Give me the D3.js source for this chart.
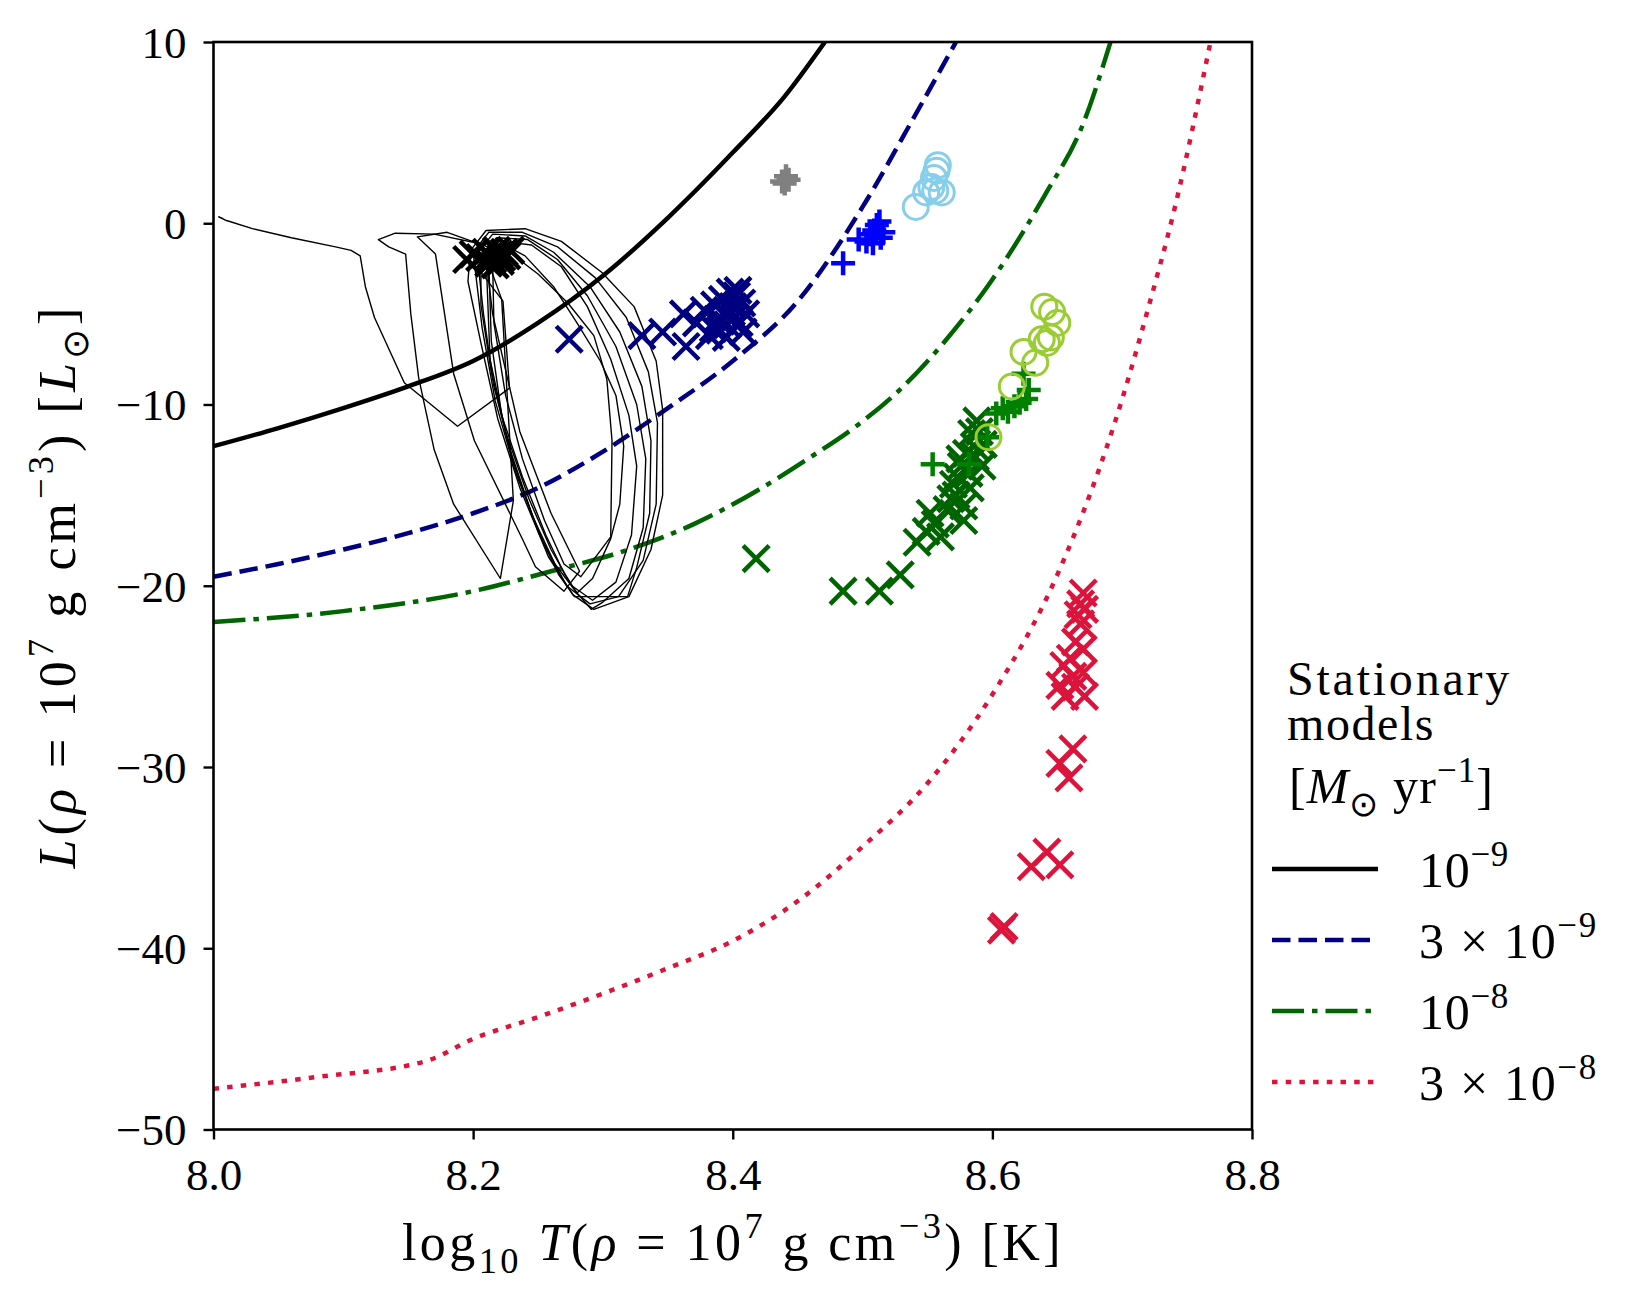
<!DOCTYPE html>
<html>
<head>
<meta charset="utf-8">
<script src="https://cdn.jsdelivr.net/npm/d3@7"></script>
<style>
  body { margin: 0; background: #fff; }
  svg text { font-family: "Liberation Serif", "Times New Roman", serif; fill: #000; white-space: pre; }
</style>
</head>
<body>
<svg id="chart"></svg>
<script>
// ---- data ----
const xTicks = [8.0, 8.2, 8.4, 8.6, 8.8];
const yTicks = [-50, -40, -30, -20, -10, 0, 10];

// stationary models, log T vs L
const stat1e9T = [8.0, 8.05, 8.1, 8.15, 8.2, 8.25, 8.3, 8.35, 8.4, 8.44, 8.471];
const stat1e9L = [-12.3, -11.3, -10.2, -9.0, -7.6, -5.5, -2.9, 0.3, 3.9, 7.0, 10];
const stat3e9T = [8.0, 8.05, 8.1, 8.15, 8.2, 8.25, 8.3, 8.35, 8.4, 8.45, 8.5, 8.54, 8.572];
const stat3e9L = [-19.5, -18.8, -18.0, -17.1, -16.0, -14.6, -12.6, -10.2, -7.6, -4.3, 0.9, 5.9, 10];
const stat1e8T = [8.0, 8.1, 8.2, 8.26, 8.32, 8.37, 8.42, 8.46, 8.495, 8.53, 8.56, 8.6, 8.64, 8.67, 8.691];
const stat1e8L = [-22.0, -21.4, -20.3, -19.2, -18.0, -16.6, -14.7, -12.9, -11.2, -9.1, -6.8, -3.1, 1.5, 5.5, 10];
const stat3e8T = [8.0, 8.08, 8.165, 8.2, 8.25, 8.3, 8.35, 8.4, 8.45, 8.5, 8.55, 8.6, 8.65, 8.7, 8.72, 8.74, 8.768];
const stat3e8L = [-47.75, -47.1, -46.2, -45.0, -43.8, -42.5, -41.1, -39.6, -37.4, -34.4, -30.9, -26.0, -19.4, -9.7, -4.7, 0.7, 10];

// time-dependent track (thin black line), [logT, L] pairs per segment
const trackStart = [[8.0075, 0.25], [8.004, 0.35], [8.01, 0.15], [8.03, -0.3], [8.06, -0.8], [8.094, -1.3],
  [8.106, -1.5], [8.113, -1.8], [8.117, -3.5], [8.124, -5.2], [8.147, -8.8], [8.188, -11.2], [8.228, -9.1],
  [8.223, -4.3], [8.205, -2.6], [8.196, -1.9]];
const trackTip1 = [[8.21, -1.2], [8.17, -0.6], [8.14, -0.55], [8.127, -0.9], [8.135, -1.3], [8.148, -1.7],
  [8.152, -5.0], [8.158, -8.5], [8.17, -12.5], [8.185, -15.5], [8.221, -19.6], [8.231, -15.3], [8.226, -9.2], [8.222, -4.2], [8.212, -2.2]];
const trackTip2 = [[8.215, -1.4], [8.18, -0.5], [8.157, -0.75], [8.171, -1.7], [8.178, -5.0], [8.185, -8.3],
  [8.201, -12.0], [8.2385, -17.5], [8.248, -18.95], [8.27, -20.3], [8.282, -19.2], [8.26, -16.0], [8.236, -11.5], [8.215, -5.0], [8.21, -2.0]];
const loopA = [[8.198, -1.5], [8.21, -0.4], [8.24, -0.3], [8.268, -1.0], [8.299, -2.7], [8.324, -4.6], [8.341, -7.6],
  [8.346, -10.3], [8.346, -15.0], [8.337, -18.0], [8.320, -20.6], [8.293, -21.3], [8.277, -20.5], [8.258, -18.4],
  [8.236, -14.6], [8.219, -10.8], [8.206, -6.6], [8.196, -3.2], [8.198, -1.5]];
const loopB = [[8.2, -1.6], [8.212, -0.5], [8.238, -0.5], [8.265, -1.3], [8.294, -3.0], [8.318, -5.2], [8.335, -8.2],
  [8.342, -11.0], [8.341, -15.5], [8.331, -18.6], [8.312, -20.6], [8.29, -21.0], [8.272, -20.0], [8.254, -17.6],
  [8.233, -13.8], [8.217, -9.8], [8.207, -5.8], [8.2, -1.6]];
const loopC = [[8.203, -1.7], [8.215, -0.6], [8.24, -0.7], [8.262, -1.6], [8.29, -3.5], [8.313, -6.0], [8.33, -9.0],
  [8.337, -12.0], [8.336, -16.0], [8.326, -19.0], [8.319, -20.6], [8.278, -20.6], [8.266, -19.4], [8.25, -17.0],
  [8.231, -13.2], [8.216, -9.0], [8.208, -5.0], [8.203, -1.7]];
const loopD = [[8.206, -1.8], [8.218, -0.8], [8.242, -0.9], [8.265, -2.0], [8.288, -4.0], [8.31, -6.8], [8.326, -10.0],
  [8.333, -13.0], [8.331, -16.8], [8.32, -19.6], [8.3, -20.9], [8.291, -21.3], [8.28, -20.4], [8.263, -18.8], [8.246, -16.2],
  [8.228, -12.4], [8.214, -8.2], [8.206, -4.5], [8.206, -1.8]];
const loopE = [[8.21, -1.9], [8.222, -1.0], [8.245, -1.2], [8.268, -2.4], [8.288, -4.6], [8.306, -7.5], [8.32, -10.6],
  [8.326, -13.4], [8.322, -17.2], [8.31, -19.8], [8.292, -20.8], [8.276, -20.0], [8.26, -18.0], [8.243, -15.2],
  [8.225, -11.5], [8.213, -7.5], [8.21, -1.9]];
const loopF = [[8.212, -2.0], [8.227, -1.3], [8.24, -1.8], [8.262, -3.5], [8.28, -5.5], [8.298, -7.6], [8.31, -9.5],
  [8.316, -12.3], [8.313, -15.5], [8.306, -17.4], [8.292, -19.6], [8.28, -20.4], [8.27, -19.3], [8.256, -17.2],
  [8.238, -14.0], [8.222, -10.6], [8.214, -6.5], [8.212, -2.0]];
const loopG = [[8.215, -2.1], [8.228, -1.6], [8.25, -2.8], [8.273, -4.4], [8.293, -6.2], [8.303, -8.6], [8.307, -12.0],
  [8.306, -17.3], [8.283, -19.5], [8.27, -18.8], [8.255, -16.4], [8.238, -13.0], [8.225, -9.5], [8.216, -5.5], [8.215, -2.1]];

// markers
const blackXT = [8.195, 8.2, 8.205, 8.21, 8.213, 8.215, 8.218, 8.22, 8.222, 8.224, 8.226, 8.229, 8.212, 8.217, 8.221];
const blackXL = [-2.0, -1.7, -1.9, -1.6, -1.8, -2.0, -1.5, -1.7, -1.9, -1.6, -1.8, -1.5, -2.2, -2.3, -2.1];
const grayPT = [8.438, 8.441, 8.443, 8.44];
const grayPL = [2.3, 2.6, 2.4, 2.2];
const navyXT = [8.274, 8.33, 8.346, 8.364, 8.362, 8.372, 8.378, 8.382, 8.386, 8.388, 8.39, 8.392, 8.394, 8.396,
  8.398, 8.4, 8.401, 8.403, 8.405, 8.407, 8.408, 8.41, 8.385, 8.395, 8.404, 8.399, 8.391];
const navyXL = [-6.4, -6.2, -6.0, -6.8, -5.0, -5.5, -4.8, -6.2, -4.5, -5.3, -5.9, -4.2, -5.0, -5.6,
  -3.8, -4.6, -5.2, -4.0, -5.5, -4.4, -6.0, -5.0, -5.8, -6.3, -3.7, -4.9, -5.4];
const bluePT = [8.485, 8.497, 8.503, 8.506, 8.509, 8.511, 8.513, 8.514, 8.508, 8.516];
const bluePL = [-2.2, -0.9, -1.0, -0.6, -0.4, -0.1, 0.1, -0.8, -1.1, -0.5];
const skyOT = [8.541, 8.549, 8.553, 8.556, 8.561, 8.557, 8.555, 8.558];
const skyOL = [0.9, 1.7, 2.0, 1.8, 1.7, 2.9, 2.5, 3.2];
const dgreenXT = [8.418, 8.485, 8.513, 8.529, 8.542, 8.549, 8.552, 8.556, 8.56, 8.565, 8.568, 8.57, 8.573, 8.576,
  8.578, 8.58, 8.582, 8.584, 8.586, 8.588, 8.59, 8.592, 8.593, 8.578, 8.572, 8.583, 8.587, 8.575];
const dgreenXL = [-18.5, -20.3, -20.3, -19.4, -17.6, -17.0, -16.0, -16.6, -17.3, -15.8, -15.2, -14.4, -14.0, -13.4,
  -15.6, -12.7, -13.8, -11.6, -12.3, -10.9, -11.5, -13.4, -12.2, -16.4, -15.0, -14.6, -12.9, -13.0];
const greenPT = [8.554, 8.582, 8.596, 8.603, 8.608, 8.612, 8.617, 8.621, 8.626, 8.628, 8.624];
const greenPL = [-13.3, -13.3, -11.8, -10.5, -10.2, -10.4, -10.1, -9.9, -9.7, -9.2, -8.3];
const ygreenOT = [8.597, 8.615, 8.624, 8.633, 8.638, 8.645, 8.64, 8.646, 8.65, 8.642];
const ygreenOL = [-11.8, -9.0, -7.1, -7.7, -6.4, -6.3, -4.6, -4.9, -5.5, -6.6];
const crimsonXT = [8.67, 8.668, 8.666, 8.671, 8.668, 8.664, 8.67, 8.655, 8.66, 8.67, 8.652, 8.664, 8.656, 8.671,
  8.662, 8.662, 8.652, 8.659, 8.642, 8.63, 8.652, 8.607, 8.609];
const crimsonXL = [-20.4, -21.0, -21.6, -21.3, -22.1, -23.1, -23.5, -24.4, -24.0, -24.8, -25.5, -25.6, -26.1, -26.1,
  -25.0, -29.0, -29.8, -30.6, -34.7, -35.5, -35.4, -39.0, -38.8];

// legend
const legendTitle = ["Stationary", "models"];
const legendLabels = [
  [["10", ""], ["\u22129", "sup"]],
  [["3 \u00d7 10", ""], ["\u22129", "sup"]],
  [["10", ""], ["\u22128", "sup"]],
  [["3 \u00d7 10", ""], ["\u22128", "sup"]]
];

// ---- drawing ----
const width = 1643, height = 1300;
const margin = { left: 213.5, right: 1252, top: 42, bottom: 1129.5 };

const svg = d3.select("#chart").attr("width", width).attr("height", height);

const x = d3.scaleLinear().domain([8.0, 8.8]).range([margin.left, margin.right]);
const y = d3.scaleLinear().domain([-50, 10]).range([margin.bottom, margin.top]);

svg.append("defs").append("clipPath").attr("id", "plotclip")
  .append("rect")
  .attr("x", margin.left).attr("y", margin.top)
  .attr("width", margin.right - margin.left).attr("height", margin.bottom - margin.top);

const plot = svg.append("g").attr("clip-path", "url(#plotclip)");
const line = d3.line().x(d => x(d[0])).y(d => y(d[1]));
const smooth = d3.line().x(d => x(d[0])).y(d => y(d[1])).curve(d3.curveMonotoneX);

const curves = [
  { T: stat1e9T, L: stat1e9L, color: "#000000", dash: null },
  { T: stat3e9T, L: stat3e9L, color: "#000080", dash: "18.5,8" },
  { T: stat1e8T, L: stat1e8L, color: "#006400", dash: "32,8,5.5,8" },
  { T: stat3e8T, L: stat3e8L, color: "#dc143c", dash: "5.5,8.2" }
];

curves.forEach(c => {
  plot.append("path")
    .datum(d3.zip(c.T, c.L))
    .attr("d", smooth)
    .attr("fill", "none")
    .attr("stroke", c.color)
    .attr("stroke-width", 4.5)
    .attr("stroke-dasharray", c.dash);
});

const track = [trackStart, trackTip1, trackTip2, loopA, loopB, loopC, loopD, loopE, loopF, loopG];
plot.selectAll(".track")
  .data(track)
  .join("path")
  .attr("class", "track")
  .attr("d", line)
  .attr("fill", "none")
  .attr("stroke", "#000")
  .attr("stroke-width", 1.4)
  .attr("stroke-linejoin", "round");

function drawMarkers(T, L, kind, color) {
  const s = kind === "x" ? 13 : 12;
  const shape = kind === "x"
    ? `M${-s},${-s}L${s},${s}M${-s},${s}L${s},${-s}`
    : `M${-s},0L${s},0M0,${-s}L0,${s}`;
  const g = plot.append("g");
  if (kind === "o") {
    g.selectAll("circle")
      .data(d3.zip(T, L))
      .join("circle")
      .attr("cx", d => x(d[0]))
      .attr("cy", d => y(d[1]))
      .attr("r", 12.5)
      .attr("fill", "none")
      .attr("stroke", color)
      .attr("stroke-width", 3);
  } else {
    g.selectAll("path")
      .data(d3.zip(T, L))
      .join("path")
      .attr("d", shape)
      .attr("transform", d => `translate(${x(d[0])},${y(d[1])})`)
      .attr("fill", "none")
      .attr("stroke", color)
      .attr("stroke-width", 4.5);
  }
}

drawMarkers(blackXT, blackXL, "x", "#000000");
drawMarkers(grayPT, grayPL, "+", "#808080");
drawMarkers(navyXT, navyXL, "x", "#000080");
drawMarkers(bluePT, bluePL, "+", "#0000ff");
drawMarkers(skyOT, skyOL, "o", "#87ceeb");
drawMarkers(dgreenXT, dgreenXL, "x", "#006400");
drawMarkers(greenPT, greenPL, "+", "#008000");
drawMarkers(ygreenOT, ygreenOL, "o", "#9acd32");
drawMarkers(crimsonXT, crimsonXL, "x", "#dc143c");

// axes
const fmtY = d => (d < 0 ? "\u2212" + Math.abs(d) : String(d));

const xAxis = svg.append("g")
  .attr("transform", `translate(0,${margin.bottom})`)
  .call(d3.axisBottom(x).tickValues(xTicks).tickSize(10).tickFormat(d3.format(".1f")));
xAxis.select(".domain").remove();
xAxis.selectAll("line").attr("stroke", "#000").attr("stroke-width", 2.4);
xAxis.selectAll("text")
  .attr("y", 60).attr("dy", null)
  .attr("font-size", 45)
  .attr("font-family", null);

const yAxis = svg.append("g")
  .attr("transform", `translate(${margin.left},0)`)
  .call(d3.axisLeft(y).tickValues(yTicks).tickSize(10).tickFormat(fmtY));
yAxis.select(".domain").remove();
yAxis.selectAll("line").attr("stroke", "#000").attr("stroke-width", 2.4);
yAxis.selectAll("text")
  .attr("x", -27).attr("dy", "0.34em")
  .attr("font-size", 45)
  .attr("font-family", null);

svg.append("rect")
  .attr("x", margin.left).attr("y", margin.top)
  .attr("width", margin.right - margin.left).attr("height", margin.bottom - margin.top)
  .attr("fill", "none").attr("stroke", "#000").attr("stroke-width", 2.6);

// text with sub/superscripts
function rich(parent, parts, size) {
  const t = parent.append("text").attr("font-size", size);
  let off = 0;
  parts.forEach(([s, k]) => {
    const ts = t.append("tspan").text(s);
    let target = 0;
    if (k === "sub") { target = 0.25 * size; ts.attr("font-size", 0.7 * size); }
    if (k === "sup") { target = -0.42 * size; ts.attr("font-size", 0.7 * size); }
    if (k === "i") ts.attr("font-style", "italic");
    if (target !== off) { ts.attr("dy", target - off); off = target; }
  });
  return t;
}

function fitWidth(t, target) {
  const n = t.node().textContent.length;
  const w = t.node().getBBox().width;
  t.attr("letter-spacing", ((target - w) / n).toFixed(2));
}

const xLabel = rich(svg, [["log", ""], ["10", "sub"], [" ", ""], ["T", "i"], ["(", ""], ["\u03c1", "i"],
  [" = 10", ""], ["7", "sup"], [" g cm", ""], ["\u22123", "sup"], [") [K]", ""]], 52)
  .attr("x", 733).attr("y", 1260).attr("text-anchor", "middle");
fitWidth(xLabel, 662);

const yLabel = rich(svg, [["L", "i"], ["(", ""], ["\u03c1", "i"], [" = 10", ""], ["7", "sup"], [" g cm", ""],
  ["\u22123", "sup"], [") [", ""], ["L", "i"], ["\u2299", "sub"], ["]", ""]], 52)
  .attr("text-anchor", "middle")
  .attr("transform", "translate(75,586) rotate(-90)");
fitWidth(yLabel, 566);

// legend
const legend = svg.append("g");
const titleY = [695, 740];
legendTitle.forEach((s, i) => {
  const t = legend.append("text").attr("x", 1287).attr("y", titleY[i]).attr("font-size", 48).text(s);
  fitWidth(t, i === 0 ? 225 : 148);
});
const unitText = rich(legend, [["[", ""], ["M", "i"], ["\u2299", "sub"], [" yr", ""], ["\u22121", "sup"], ["]", ""]], 50)
  .attr("x", 1289).attr("y", 803);
fitWidth(unitText, 205);

const entryY = [869, 940, 1011, 1082];
const labelW = [90, 179, 90, 179];
curves.forEach((c, i) => {
  legend.append("line")
    .attr("x1", 1272).attr("x2", 1378)
    .attr("y1", entryY[i]).attr("y2", entryY[i])
    .attr("stroke", c.color)
    .attr("stroke-width", 4.5)
    .attr("stroke-dasharray", c.dash);
  const t = rich(legend, legendLabels[i], 50).attr("x", 1419).attr("y", entryY[i] + 18);
  fitWidth(t, labelW[i]);
});
</script>
</body>
</html>
